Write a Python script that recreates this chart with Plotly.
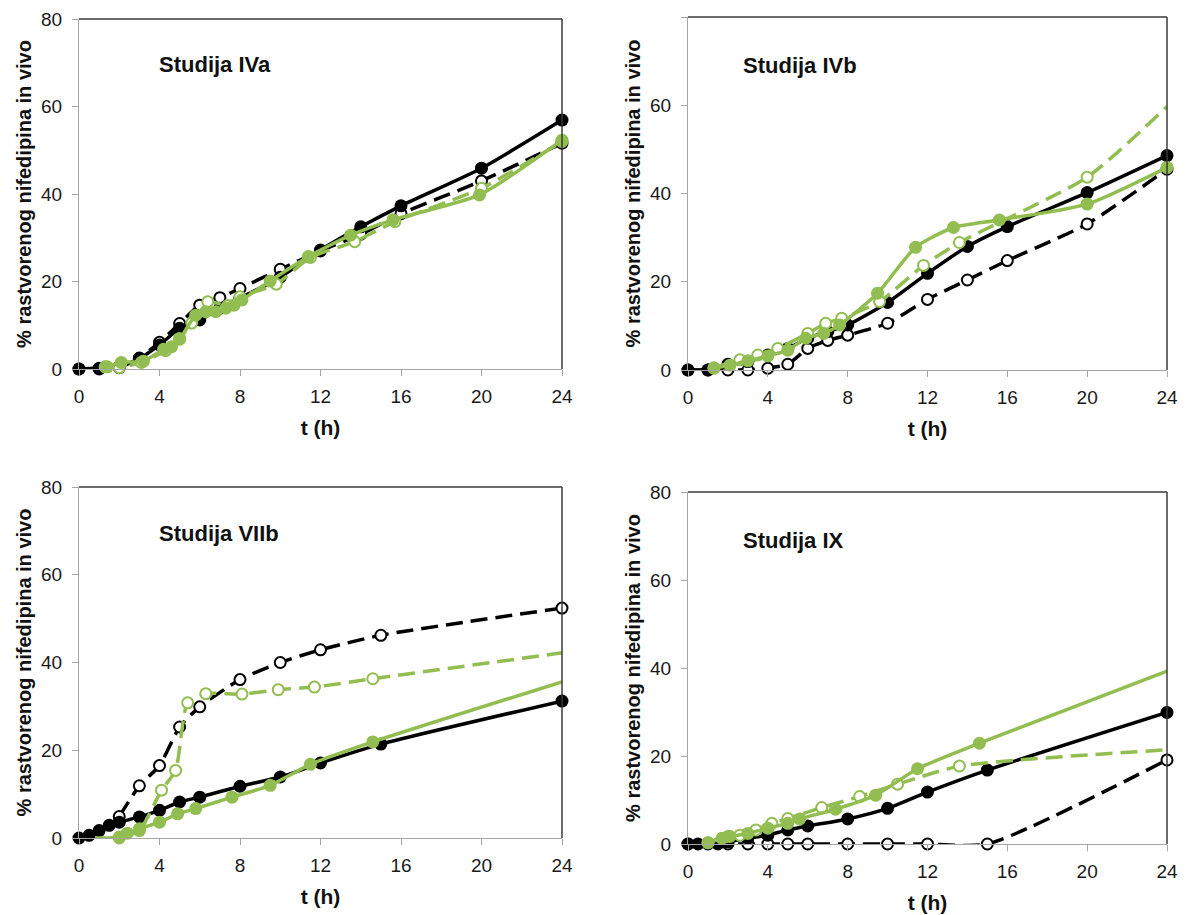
import plotly.graph_objects as go
from plotly.subplots import make_subplots

# ---------------- data ----------------
panel_titles = ["Studija IVa", "Studija IVb", "Studija VIIb", "Studija IX"]
x_ticks = [0, 4, 8, 12, 16, 20, 24]
y_ticks = [0, 20, 40, 60, 80]

# Studija IVa
iva_bs_t = [0, 1, 2, 3, 4, 5, 6, 7, 8, 10, 12, 14, 16, 20, 24]
iva_bs_y = [0, 0, 0.5, 2.4, 5.5, 9.3, 11.2, 13.9, 16.2, 21.0, 27.2, 32.5, 37.3, 45.9, 56.9]
iva_bo_t = [0, 1, 2, 3, 4, 5, 6, 7, 8, 10, 12, 14, 16, 20, 24]
iva_bo_y = [0, 0.2, 0.3, 2.5, 6.1, 10.4, 14.6, 16.3, 18.4, 22.8, 27.0, 30.8, 35.5, 43.0, 51.6]
iva_gs_t = [1.4, 2.1, 3.2, 4.2, 4.6, 5.0, 5.8, 6.3, 6.8, 7.3, 7.7, 8.1, 9.5, 11.4, 13.5, 15.6, 19.9, 24]
iva_gs_y = [0.5, 1.5, 1.8, 4.5, 5.1, 6.8, 12.3, 13.1, 13.1, 13.9, 14.6, 15.8, 20.1, 25.7, 30.6, 34.1, 39.8, 52.3]
iva_go_t = [1.3, 2.0, 3.1, 4.3, 5.0, 5.6, 6.4, 7.4, 8.0, 9.8, 11.5, 13.7, 15.7, 20.0, 24]
iva_go_y = [0.5, 0.3, 1.5, 4.2, 7.0, 10.5, 15.4, 14.5, 16.5, 19.4, 25.5, 29.1, 33.7, 41.3, 52.0]

# Studija IVb
ivb_bs_t = [0, 1, 2, 3, 4, 5, 6, 7, 8, 10, 12, 14, 16, 20, 24]
ivb_bs_y = [0, 0, 1.3, 1.9, 3.4, 4.9, 7.2, 8.7, 10.2, 15.3, 21.9, 28.0, 32.5, 40.2, 48.6]
ivb_bo_t = [0, 1, 2, 3, 4, 5, 6, 7, 8, 10, 12, 14, 16, 20, 24]
ivb_bo_y = [0, 0, 0, 0, 0.4, 1.3, 4.9, 6.7, 7.9, 10.6, 16.0, 20.4, 24.8, 33.1, 45.5]
ivb_gs_t = [1.3, 2.1, 3.0, 4.0, 5.0, 5.9, 6.8, 7.6, 9.5, 11.4, 13.3, 15.6, 20.0, 24]
ivb_gs_y = [0.4, 1.1, 2.1, 3.2, 4.5, 7.2, 8.3, 10.2, 17.4, 27.8, 32.3, 34.0, 37.6, 45.9]
ivb_go_t = [1.3, 2.6, 3.5, 4.5, 6.0, 6.9, 7.7, 9.6, 11.8, 13.6, 20.0, 24]
ivb_go_y = [0.5, 2.3, 3.4, 4.9, 8.3, 10.6, 11.7, 15.5, 23.7, 28.9, 43.7, 59.7]

# Studija VIIb
viib_bs_t = [0, 0.5, 1, 1.5, 2, 3, 4, 5, 6, 8, 10, 12, 15, 24]
viib_bs_y = [0, 0.6, 1.7, 2.9, 3.6, 4.8, 6.3, 8.2, 9.3, 11.8, 13.9, 17.1, 21.4, 31.2]
viib_bo_t = [2, 3, 4, 5, 6, 8, 10, 12, 15, 24]
viib_bo_y = [4.9, 11.9, 16.5, 25.3, 29.9, 36.1, 40.0, 42.9, 46.2, 52.4]
viib_gs_t = [0.8, 2.0, 2.4, 3.0, 4.0, 4.9, 5.8, 7.6, 9.5, 11.5, 14.6, 24]
viib_gs_y = [0, 0.2, 1.1, 2.1, 3.6, 5.5, 6.7, 9.3, 12.0, 16.8, 21.9, 35.6]
viib_go_t = [2.0, 3.0, 4.1, 4.8, 5.4, 6.3, 8.1, 9.9, 11.7, 14.6, 24]
viib_go_y = [0, 1.7, 10.9, 15.4, 30.8, 32.9, 32.8, 33.8, 34.4, 36.3, 42.2]

# Studija IX
ix_bs_t = [0, 0.5, 1.5, 2, 3, 4, 5, 6, 8, 10, 12, 15, 24]
ix_bs_y = [0, 0, 0, 0.5, 1.3, 2.0, 3.2, 4.1, 5.7, 8.1, 11.8, 16.8, 29.9]
ix_bo_t = [0, 1, 2, 3, 4, 5, 6, 8, 10, 12, 15, 24]
ix_bo_y = [0, 0, 0, 0, 0, 0, 0, 0, 0, 0, 0, 19.1]
ix_gs_t = [1.0, 1.7, 2.1, 3.0, 4.0, 5.0, 5.6, 7.4, 9.4, 11.5, 14.6, 24]
ix_gs_y = [0.3, 1.3, 1.7, 2.4, 3.6, 4.7, 5.7, 7.9, 11.1, 17.1, 22.9, 39.3]
ix_go_t = [1.0, 2.0, 2.6, 3.4, 4.2, 5.0, 6.7, 8.6, 10.5, 13.6, 24]
ix_go_y = [0.3, 1.7, 2.0, 3.2, 4.7, 5.8, 8.3, 10.8, 13.6, 17.7, 21.4]

panels = [
    dict(bs=(iva_bs_t, iva_bs_y), bo=(iva_bo_t, iva_bo_y), gs=(iva_gs_t, iva_gs_y), go=(iva_go_t, iva_go_y)),
    dict(bs=(ivb_bs_t, ivb_bs_y), bo=(ivb_bo_t, ivb_bo_y), gs=(ivb_gs_t, ivb_gs_y), go=(ivb_go_t, ivb_go_y)),
    dict(bs=(viib_bs_t, viib_bs_y), bo=(viib_bo_t, viib_bo_y), gs=(viib_gs_t, viib_gs_y), go=(viib_go_t, viib_go_y)),
    dict(bs=(ix_bs_t, ix_bs_y), bo=(ix_bo_t, ix_bo_y), gs=(ix_gs_t, ix_gs_y), go=(ix_go_t, ix_go_y)),
]

# ---------------- styles ----------------
BLACK = "#000000"
GREEN = "#92BD50"
AXIS_GRAY = "#A6A6A6"
BORDER = "#3A3A3A"
FONT = "Liberation Sans, Arial, sans-serif"
DASH = "17px,8px"

# page body has an 8px margin: figure is sized to fit the window after it
FIG_W, FIG_H = 1183, 907

# series whose last / first point is drawn without a marker, per panel
no_last_marker = {
    1: ["go"],
    2: ["gs", "go"],
    3: ["gs", "go"],
}
no_first_marker = {2: ["gs"]}

# plot boxes in figure pixels: (left, right, top, bottom)
boxes_px = [(71, 554, 11, 361), (680, 1159, 9, 362), (71, 554, 479, 830), (680, 1159, 484, 836)]
domains_x = [[l / FIG_W, r / FIG_W] for l, r, t, b in boxes_px]
domains_y = [[1 - b / FIG_H, 1 - t / FIG_H] for l, r, t, b in boxes_px]
title_pos = [(3.9, 69.5), (2.65, 69.0), (3.9, 69.5), (2.65, 69.0)]

fig = make_subplots(rows=2, cols=2)

series_style = {
    "bs": dict(color=BLACK, dash="solid", filled=True),
    "bo": dict(color=BLACK, dash=DASH, filled=False),
    "gs": dict(color=GREEN, dash="solid", filled=True),
    "go": dict(color=GREEN, dash=DASH, filled=False),
}
draw_order = ["bo", "bs", "go", "gs"]

for i, p in enumerate(panels):
    row, col = i // 2 + 1, i % 2 + 1
    for key in draw_order:
        t, y = p[key]
        st = series_style[key]
        base = 13 if st["filled"] else 11
        sizes = [base] * len(t)
        if key in no_last_marker.get(i, []):
            sizes[-1] = 0
        if key in no_first_marker.get(i, []):
            sizes[0] = 0
        marker = dict(
            size=sizes,
            opacity=1,
            symbol="circle",
            color=st["color"] if st["filled"] else "white",
            line=dict(color=st["color"], width=0 if st["filled"] else 2),
        )
        fig.add_trace(
            go.Scatter(
                x=t, y=y, mode="lines+markers",
                line=dict(color=st["color"], width=3.5, dash=st["dash"], shape="spline", smoothing=0.6),
                marker=marker, cliponaxis=False, showlegend=False,
            ),
            row=row, col=col,
        )

for i in range(4):
    sfx = "" if i == 0 else str(i + 1)
    fig.layout["xaxis" + sfx].update(
        domain=domains_x[i], range=[0, 24], tickvals=x_ticks, showline=True, linecolor=AXIS_GRAY,
        linewidth=1, ticks="outside", ticklen=6, tickcolor=AXIS_GRAY, showgrid=False, zeroline=False,
        tickfont=dict(family=FONT, size=19, color="#1a1a1a"), ticklabelstandoff=4, automargin=False,
        title=dict(text="<b>t (h)</b>", font=dict(family=FONT, size=21, color="#111111"), standoff=14),
    )
    fig.layout["yaxis" + sfx].update(
        domain=domains_y[i], range=[0, 80], tickvals=y_ticks, showline=True, linecolor=AXIS_GRAY,
        linewidth=1, ticks="outside", ticklen=6, tickcolor=AXIS_GRAY, showgrid=False, zeroline=False,
        tickfont=dict(family=FONT, size=19, color="#1a1a1a"), ticklabelstandoff=6, automargin=False,
        title=dict(text="<b>% rastvorenog nifedipina in vivo</b>", font=dict(family=FONT, size=20, color="#111111"), standoff=4),
    )
    xr = "x" + sfx
    yr = "y" + sfx
    fig.add_annotation(
        x=title_pos[i][0], y=title_pos[i][1], xref=xr, yref=yr, text="<b>" + panel_titles[i] + "</b>",
        showarrow=False, xanchor="left", yanchor="middle", font=dict(family=FONT, size=22, color="#111111"),
    )
    # top and right borders of the plot box
    fig.add_shape(type="line", xref=xr + " domain", yref=yr + " domain", x0=0, x1=1, y0=1, y1=1,
                  line=dict(color=BORDER, width=1.5))
    fig.add_shape(type="line", xref=xr + " domain", yref=yr + " domain", x0=1, x1=1, y0=0, y1=1,
                  line=dict(color=BORDER, width=1.5))

fig.update_layout(
    width=FIG_W, height=FIG_H, margin=dict(l=0, r=0, t=0, b=0),
    plot_bgcolor="white", paper_bgcolor="white", showlegend=False,
    font=dict(family=FONT),
)

fig.write_html("out.html")
